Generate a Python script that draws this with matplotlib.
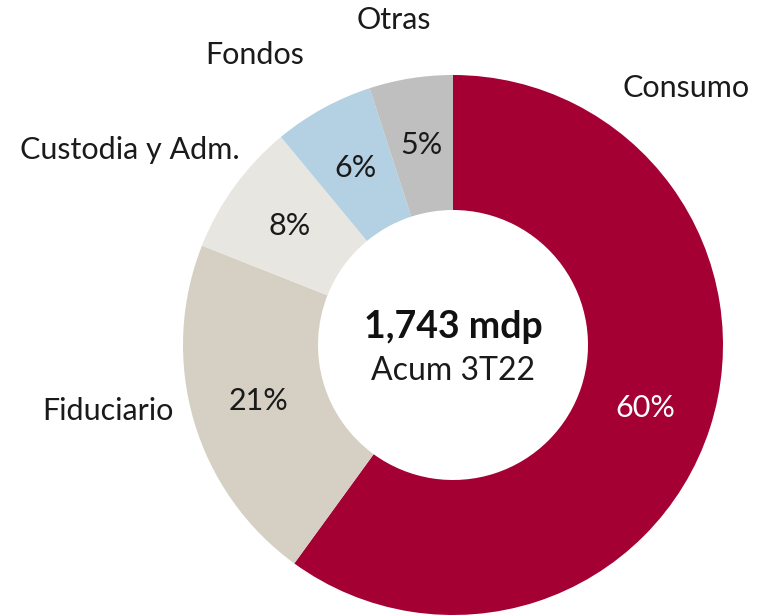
import matplotlib
matplotlib.use('Agg')
import matplotlib.pyplot as plt

# Data
categories = ['Consumo', 'Fiduciario', 'Custodia y Adm.', 'Fondos', 'Otras']
shares = [60, 21, 8, 6, 5]
colors = ['#A50034', '#D5D0C3', '#E8E6E1', '#B3D1E3', '#BFBFBF']
pct_colors = ['white', '#1a1a1a', '#1a1a1a', '#1a1a1a', '#1a1a1a']
total_label = '1,743 mdp'
period_label = 'Acum 3T22'

plt.rcParams['font.family'] = ['Lato', 'DejaVu Sans']

fig = plt.figure(figsize=(7.61, 6.15), dpi=100)
fig.patch.set_facecolor('white')
# axes sized so the ring is centred at (453, 345) px with radius 270 px
ax = fig.add_axes([(453 - 270) / 761, 0, 540 / 761, 540 / 615])

wedges, texts, autotexts = ax.pie(
    shares, colors=colors, startangle=90, counterclock=False,
    radius=1, wedgeprops=dict(width=0.5, edgecolor='none'),
    autopct=lambda p: f'{p:.0f}%', pctdistance=0.75,
    textprops=dict(fontsize=22, fontweight='normal'))
for t, c in zip(autotexts, pct_colors):
    t.set_color(c)

# outer category labels
label_pos = {
    'Consumo': (0.863, 0.952),
    'Fiduciario': (-1.278, -0.244),
    'Custodia y Adm.': (-1.196, 0.722),
    'Fondos': (-0.733, 1.074),
    'Otras': (-0.219, 1.204),
}
for name in categories:
    x, y = label_pos[name]
    ax.text(x, y, name, ha='center', va='center', fontsize=22,
            fontweight='normal', color='#1a1a1a')

ax.text(0, 0.065, total_label, ha='center', va='center', fontsize=27,
        fontweight='bold', color='#111111')
ax.text(0, -0.095, period_label, ha='center', va='center', fontsize=23,
        fontweight='normal', color='#1a1a1a')

ax.set_xlim(-1, 1)
ax.set_ylim(-1, 1)
ax.set_aspect('equal')
ax.axis('off')

plt.savefig('out.png', dpi=100)
